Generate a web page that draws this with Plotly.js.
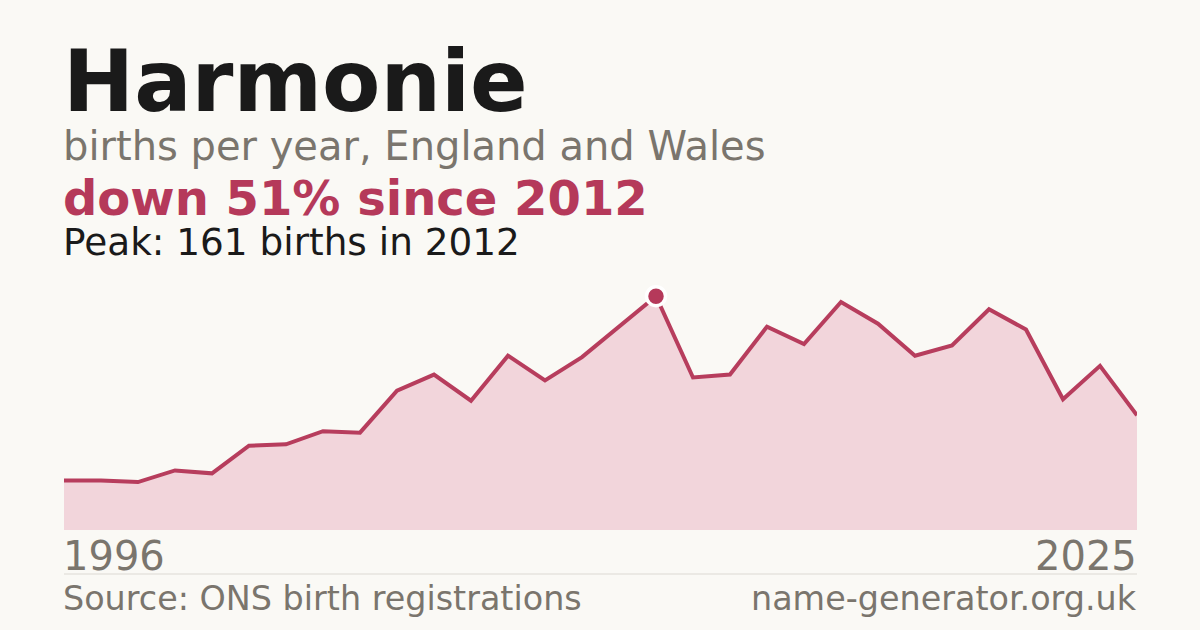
<!DOCTYPE html>
<html>
<head>
<meta charset="utf-8">
<script src="https://cdn.plot.ly/plotly-3.0.1.min.js"></script>
<style>
  html, body { margin: 0; padding: 0; background: #faf9f5; }
  #chart { width: 1200px; height: 630px; }
</style>
</head>
<body>
<div id="chart"></div>
<script>
const years = [1996,1997,1998,1999,2000,2001,2002,2003,2004,2005,2006,2007,2008,2009,2010,
               2011,2012,2013,2014,2015,2016,2017,2018,2019,2020,2021,2022,2023,2024,2025];
const births = [34,34,33,41,39,58,59,68,67,96,107,89,120,103,119,
                140,161,105,107,140,128,157,142,120,127,152,138,90,113,79];

const nameText = "Harmonie";
const subtitleText = "births per year, England and Wales";
const changeText = "down 51% since 2012";
const peakText = "Peak: 161 births in 2012";
const sourceText = "Source: ONS birth registrations";
const siteText = "name-generator.org.uk";

const RED = "#b5395a";
const LINE = "#b73d5d";
const FILL = "#f2d5db";
const GREY = "#7a756d";
const FONT = "DejaVu Sans";

const W = 1200, H = 630;
const L = 64, R = 63, T = 270, B = 100;
const plotW = W - L - R;
const plotH = H - T - B;
function py(p) { return (H - B - p) / plotH; }
function px(p) { return (p - L) / plotW; }

let peakIdx = 0;
births.forEach((v, i) => { if (v > births[peakIdx]) peakIdx = i; });

const traces = [
  {
    x: years, y: births, type: "scatter", mode: "lines",
    fill: "tozeroy", fillcolor: FILL,
    line: { color: LINE, width: 4, shape: "linear" },
    hoverinfo: "skip"
  },
  {
    x: [years[peakIdx]], y: [births[peakIdx]], type: "scatter", mode: "markers",
    marker: { size: 19, color: RED, line: { color: "#ffffff", width: 3.5 } },
    cliponaxis: false, hoverinfo: "skip"
  }
];

function ann(text, pixX, xanchor, pixY, size, color, bold) {
  return {
    text: bold ? "<b>" + text + "</b>" : text,
    xref: "paper", yref: "paper", x: px(pixX), y: py(pixY),
    xanchor: xanchor, yanchor: "middle", showarrow: false,
    font: { family: FONT, size: size, color: color }
  };
}

const layout = {
  width: W, height: H,
  margin: { l: L, r: R, t: T, b: B, pad: 0 },
  paper_bgcolor: "#faf9f5", plot_bgcolor: "#faf9f5",
  showlegend: false,
  xaxis: { range: [years[0], years[years.length - 1]], showgrid: false, zeroline: false,
           showticklabels: false, showline: false, fixedrange: true },
  yaxis: { range: [0, 179], showgrid: false, zeroline: false,
           showticklabels: false, showline: false, fixedrange: true },
  annotations: [
    ann(nameText, 61, "left", 82, 85, "#1a1a1a", true),
    ann(subtitleText, 61, "left", 146, 40, GREY, false),
    ann(changeText, 61, "left", 198, 48, RED, true),
    ann(peakText, 61, "left", 242, 37.4, "#1a1a1a", false),
    ann(String(years[0]), 61, "left", 556, 40, GREY, false),
    ann(String(years[years.length - 1]), 1139, "right", 556, 40, GREY, false),
    ann(sourceText, 61, "left", 598, 33.4, GREY, false),
    ann(siteText, 1139, "right", 598, 33.4, GREY, false)
  ],
  shapes: [
    { type: "line", xref: "paper", yref: "paper", x0: 0, x1: 1, y0: py(574), y1: py(574),
      line: { color: "#dcd9d3", width: 1 } }
  ]
};

Plotly.newPlot("chart", traces, layout, { staticPlot: true, displayModeBar: false });
</script>
</body>
</html>
